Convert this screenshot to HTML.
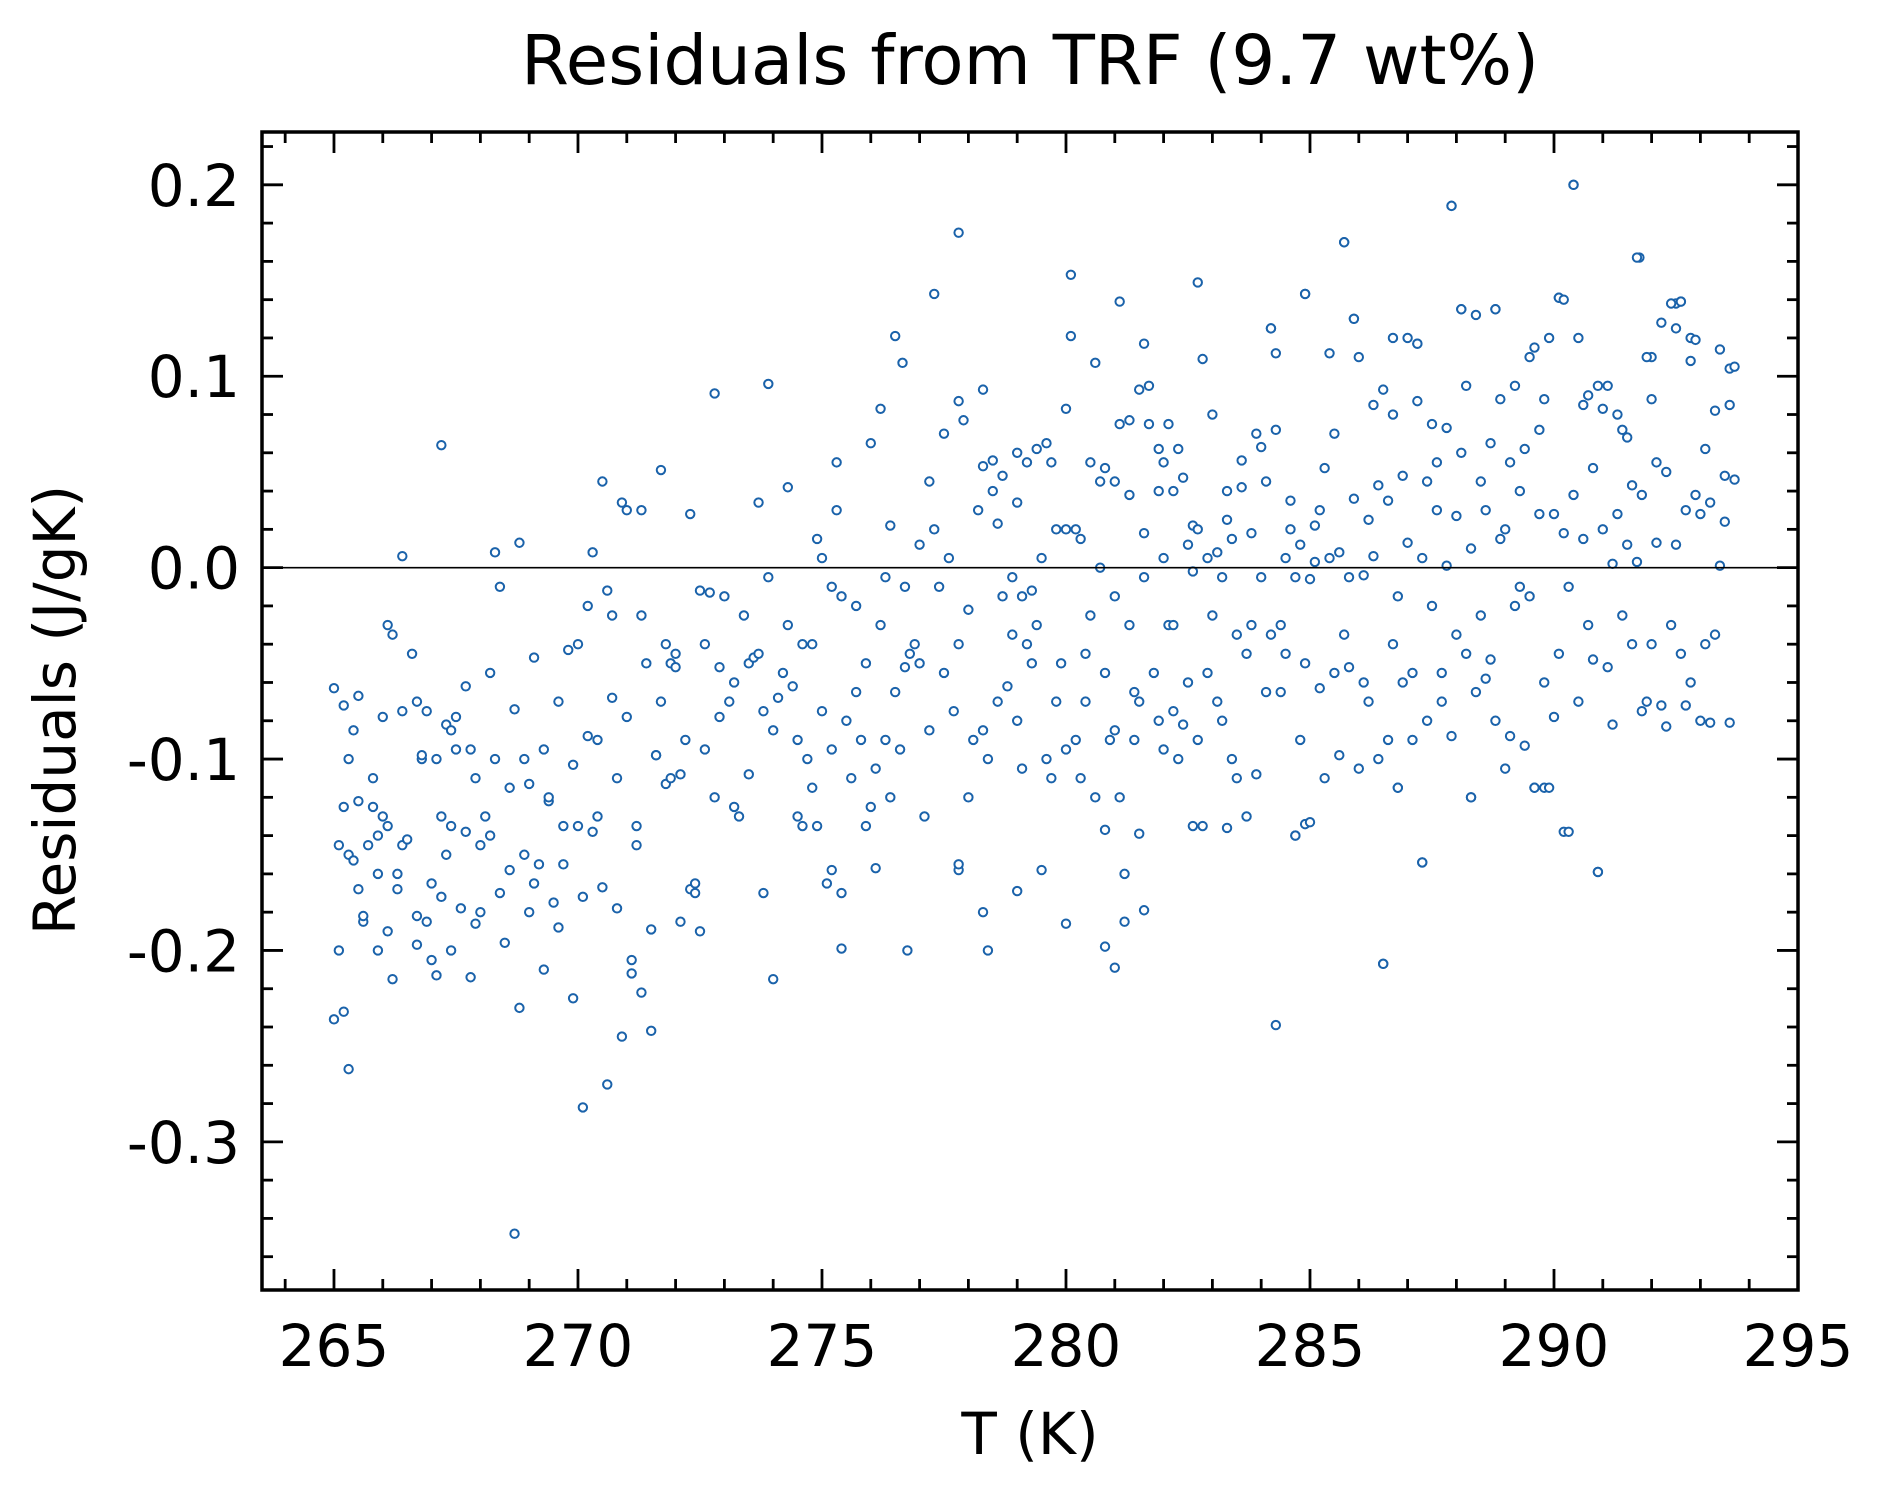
<!DOCTYPE html>
<html><head><meta charset="utf-8"><style>
html,body{margin:0;padding:0;background:#fff;}
svg{display:block;font-family:"DejaVu Sans","Liberation Sans",sans-serif;}
</style></head><body>
<svg id="chart" width="1880" height="1494" viewBox="0 0 1880 1494">
<rect x="0" y="0" width="1880" height="1494" fill="#fff"/>
<text x="1030" y="84" font-size="69" text-anchor="middle">Residuals from TRF (9.7 wt%)</text>
<text x="1030" y="1454" font-size="58" text-anchor="middle">T (K)</text>
<text transform="translate(75,710) rotate(-90)" font-size="58" text-anchor="middle">Residuals (J/gK)</text>
<g id="ticks"></g>
<g id="points"></g>
<line id="zero" stroke="#000" stroke-width="1.6"/>
<rect id="frame" fill="none" stroke="#000" stroke-width="3.5"/>
</svg>
<script>
const temps=[265.0,265.1,265.1,265.0,265.2,265.2,265.3,265.3,265.2,265.3,265.4,265.4,265.5,265.5,265.5,265.6,265.6,265.7,265.8,265.8,265.9,265.9,265.9,266.0,266.0,266.1,266.1,266.1,266.2,266.2,266.3,266.3,266.4,266.4,266.4,266.5,266.6,266.7,266.7,266.7,266.8,266.8,266.9,266.9,267.0,267.0,267.1,267.1,267.2,267.2,267.2,267.3,267.3,267.4,267.4,267.4,267.5,267.5,267.6,267.7,267.7,267.8,267.8,267.9,267.9,268.0,268.0,268.1,268.2,268.2,268.3,268.3,268.4,268.4,268.5,268.6,268.6,268.7,268.7,268.8,268.8,268.9,268.9,269.0,269.0,269.1,269.1,269.2,269.3,269.3,269.4,269.4,269.5,269.6,269.6,269.7,269.7,269.8,269.9,269.9,270.0,270.0,270.1,270.1,270.2,270.2,270.3,270.3,270.4,270.4,270.5,270.5,270.6,270.6,270.7,270.7,270.8,270.8,270.9,270.9,271.0,271.0,271.1,271.1,271.2,271.2,271.3,271.3,271.3,271.4,271.5,271.5,271.6,271.6,271.7,271.7,271.8,271.8,271.9,271.9,272.0,272.0,272.1,272.1,272.2,272.3,272.3,272.4,272.4,272.5,272.5,272.6,272.6,272.7,272.8,272.8,272.9,272.9,273.0,273.1,273.2,273.2,273.3,273.4,273.5,273.5,273.6,273.7,273.7,273.8,273.8,273.9,273.9,274.0,274.0,274.1,274.2,274.3,274.3,274.4,274.5,274.5,274.6,274.6,274.7,274.8,274.8,274.9,274.9,275.0,275.0,275.1,275.2,275.2,275.3,275.3,275.4,275.4,275.5,275.6,275.7,275.7,275.8,275.9,275.9,276.0,276.0,276.1,276.2,276.2,276.3,276.3,276.4,276.4,276.5,276.6,276.7,276.7,276.8,276.9,277.0,277.0,277.1,277.2,277.2,277.3,277.4,277.5,277.5,277.6,277.7,277.8,277.8,277.9,278.0,278.0,278.1,278.2,278.3,278.3,278.4,278.4,278.5,278.6,278.7,278.8,278.9,279.0,279.0,279.1,279.2,279.3,279.4,279.5,279.5,279.6,279.6,279.7,279.8,279.9,280.0,280.0,280.1,280.2,280.3,280.3,280.4,280.5,280.6,280.6,280.7,280.8,280.8,280.9,281.0,281.0,281.1,281.2,281.3,281.3,281.4,281.5,281.5,281.6,281.7,281.8,281.9,282.0,282.0,282.1,282.2,282.2,
277.3,277.8,276.5,276.65,277.8,278.3,280.1,281.1,281.6,282.7,285.7,287.9,290.4,284.9,284.2,285.9,288.1,288.8,290.1,291.75,292.5,292.6,286.7,287.2,292.0,292.8,293.6,
284.3,286.5,281.0,280.0,281.6,278.3,276.75,275.4,275.2,276.1,277.8,279.0,287.3,290.9,290.2,284.7,284.9,288.3,289.8,289.6,286.8,281.2,280.8,282.6,283.3,281.5,
278.5,278.7,279.0,279.2,279.4,279.7,280.0,280.2,280.5,280.8,281.1,281.3,281.7,281.9,282.0,278.9,279.3,279.8,280.4,281.0,281.4,281.9,278.6,279.1,280.7,281.6,
282.1,282.2,282.3,282.3,282.4,282.4,282.5,282.5,282.6,282.6,282.7,282.7,282.8,282.8,282.9,282.9,283.0,283.0,283.1,283.1,283.2,283.2,283.3,283.3,283.4,283.4,283.5,283.5,283.6,283.6,283.7,283.7,283.8,283.8,283.9,283.9,284.0,284.0,284.1,284.1,284.2,284.2,284.3,284.3,284.4,284.4,284.5,284.5,284.6,284.6,284.7,284.7,284.8,284.8,284.9,284.9,285.0,285.0,285.1,285.1,285.2,285.2,285.3,285.3,285.4,285.4,285.5,285.5,285.6,285.6,285.7,285.7,285.8,285.8,285.9,285.9,286.0,286.0,286.1,286.1,286.2,286.2,286.3,286.3,286.4,286.4,286.5,286.5,286.6,286.6,286.7,286.7,286.8,286.8,286.9,286.9,287.0,287.0,287.1,287.1,287.2,287.2,287.3,287.3,287.4,287.4,287.5,287.5,287.6,287.6,287.7,287.7,287.8,287.8,287.9,287.9,288.0,288.0,288.1,288.1,288.2,288.2,288.3,288.3,288.4,288.4,288.5,288.5,288.6,288.6,288.7,288.7,288.8,288.8,288.9,288.9,289.0,289.0,289.1,289.1,289.2,289.2,289.3,289.3,289.4,289.4,289.5,289.5,289.6,289.6,289.7,289.7,289.8,289.8,289.9,289.9,290.0,290.0,290.1,290.1,290.2,290.2,290.3,290.3,290.4,290.4,290.5,290.5,290.6,290.6,290.7,290.7,290.8,290.8,290.9,290.9,291.0,291.0,291.1,291.1,291.2,291.2,291.3,291.3,291.4,291.4,291.5,291.5,291.6,291.6,291.7,291.7,291.8,291.8,291.9,291.9,292.0,292.0,292.1,292.1,292.2,292.2,292.3,292.3,292.4,292.4,292.5,292.5,292.6,292.6,292.7,292.7,292.8,292.8,292.9,292.9,293.0,293.0,293.1,293.1,293.2,293.2,293.3,293.3,293.4,293.4,293.5,293.5,293.6,293.6,293.7,293.7];
const residuals=[-0.063,-0.145,-0.2,-0.236,-0.072,-0.125,-0.1,-0.15,-0.232,-0.262,-0.153,-0.085,-0.067,-0.122,-0.168,-0.185,-0.182,-0.145,-0.11,-0.125,-0.14,-0.2,-0.16,-0.078,-0.13,-0.19,-0.135,-0.03,-0.215,-0.035,-0.168,-0.16,-0.145,-0.075,0.006,-0.142,-0.045,-0.07,-0.182,-0.197,-0.1,-0.098,-0.075,-0.185,-0.165,-0.205,-0.1,-0.213,-0.13,0.064,-0.172,-0.082,-0.15,-0.2,-0.135,-0.085,-0.095,-0.078,-0.178,-0.062,-0.138,-0.214,-0.095,-0.11,-0.186,-0.18,-0.145,-0.13,-0.055,-0.14,0.008,-0.1,-0.01,-0.17,-0.196,-0.158,-0.115,-0.074,-0.348,-0.23,0.013,-0.1,-0.15,-0.18,-0.113,-0.165,-0.047,-0.155,-0.095,-0.21,-0.122,-0.12,-0.175,-0.188,-0.07,-0.155,-0.135,-0.043,-0.103,-0.225,-0.04,-0.135,-0.172,-0.282,-0.088,-0.02,0.008,-0.138,-0.09,-0.13,-0.167,0.045,-0.012,-0.27,-0.068,-0.025,-0.11,-0.178,0.034,-0.245,-0.078,0.03,-0.212,-0.205,-0.135,-0.145,0.03,-0.025,-0.222,-0.05,-0.242,-0.189,-0.098,-0.098,0.051,-0.07,-0.113,-0.04,-0.05,-0.11,-0.045,-0.052,-0.185,-0.108,-0.09,0.028,-0.168,-0.17,-0.165,-0.19,-0.012,-0.04,-0.095,-0.013,-0.12,0.091,-0.052,-0.078,-0.015,-0.07,-0.125,-0.06,-0.13,-0.025,-0.108,-0.05,-0.047,0.034,-0.045,-0.17,-0.075,0.096,-0.005,-0.215,-0.085,-0.068,-0.055,0.042,-0.03,-0.062,-0.13,-0.09,-0.135,-0.04,-0.1,-0.115,-0.04,0.015,-0.135,0.005,-0.075,-0.165,-0.095,-0.01,0.055,0.03,-0.17,-0.015,-0.08,-0.11,-0.065,-0.02,-0.09,-0.05,-0.135,0.065,-0.125,-0.105,0.083,-0.03,-0.09,-0.005,-0.12,0.022,-0.065,-0.095,-0.01,-0.052,-0.045,-0.04,0.012,-0.05,-0.13,-0.085,0.045,0.02,-0.01,-0.055,0.07,0.005,-0.075,-0.158,-0.04,0.077,-0.12,-0.022,-0.09,0.03,-0.085,0.053,-0.2,-0.1,0.056,0.023,-0.015,-0.062,-0.005,-0.08,0.034,-0.105,-0.04,-0.012,-0.03,-0.158,0.005,-0.1,0.065,-0.11,0.02,-0.05,0.02,-0.095,0.121,-0.09,0.015,-0.11,-0.045,-0.025,0.107,-0.12,0.045,-0.055,-0.198,-0.09,0.045,-0.015,-0.12,-0.185,0.038,-0.03,-0.065,0.093,-0.07,-0.005,0.095,-0.055,0.04,-0.095,0.005,-0.03,0.04,-0.075,
0.143,0.175,0.121,0.107,0.087,0.093,0.153,0.139,0.117,0.149,0.17,0.189,0.2,0.143,0.125,0.13,0.135,0.135,0.141,0.162,0.138,0.139,0.12,0.117,0.11,0.12,0.104,
-0.239,-0.207,-0.209,-0.186,-0.179,-0.18,-0.2,-0.199,-0.158,-0.157,-0.155,-0.169,-0.154,-0.159,-0.138,-0.14,-0.134,-0.12,-0.115,-0.115,-0.115,-0.16,-0.137,-0.135,-0.136,-0.139,
0.04,0.048,0.06,0.055,0.062,0.055,0.083,0.02,0.055,0.052,0.075,0.077,0.075,0.062,0.055,-0.035,-0.05,-0.07,-0.07,-0.085,-0.09,-0.08,-0.07,-0.015,0.0,0.018,
0.075,-0.03,-0.1,0.062,0.047,-0.082,0.012,-0.06,0.022,-0.002,-0.09,0.02,-0.135,0.109,-0.055,0.005,-0.025,0.08,-0.07,0.008,-0.005,-0.08,0.04,0.025,-0.1,0.015,-0.11,-0.035,0.056,0.042,-0.045,-0.13,0.018,-0.03,0.07,-0.108,0.063,-0.005,0.045,-0.065,-0.035,0.125,0.112,0.072,-0.03,-0.065,0.005,-0.045,0.02,0.035,-0.14,-0.005,-0.09,0.012,-0.05,0.143,-0.133,-0.006,0.022,0.003,-0.063,0.03,-0.11,0.052,0.005,0.112,-0.055,0.07,-0.098,0.008,-0.035,0.17,-0.052,-0.005,0.036,0.13,-0.105,0.11,-0.004,-0.06,0.025,-0.07,0.085,0.006,-0.1,0.043,0.093,-0.207,-0.09,0.035,-0.04,0.08,-0.115,-0.015,0.048,-0.06,0.013,0.12,-0.055,-0.09,0.087,0.117,-0.154,0.005,-0.08,0.045,0.075,-0.02,0.055,0.03,-0.07,-0.055,0.073,0.001,-0.088,0.189,0.027,-0.035,0.135,0.06,-0.045,0.095,-0.12,0.01,-0.065,0.132,0.045,-0.025,-0.058,0.03,0.065,-0.048,0.135,-0.08,0.088,0.015,-0.105,0.02,0.055,-0.088,0.095,-0.02,0.04,-0.01,0.062,-0.093,0.11,-0.015,0.115,-0.115,0.028,0.072,-0.06,0.088,0.12,-0.115,0.028,-0.078,0.141,-0.045,0.018,0.14,-0.138,-0.01,0.2,0.038,0.12,-0.07,0.085,0.015,0.09,-0.03,0.052,-0.048,0.095,-0.159,0.02,0.083,-0.052,0.095,-0.082,0.002,0.028,0.08,-0.025,0.072,0.068,0.012,0.043,-0.04,0.162,0.003,0.038,-0.075,0.11,-0.07,0.088,-0.04,0.055,0.013,-0.072,0.128,0.05,-0.083,-0.03,0.138,0.125,0.012,-0.045,0.139,-0.072,0.03,0.108,-0.06,0.038,0.119,-0.08,0.028,0.062,-0.04,0.034,-0.081,0.082,-0.035,0.114,0.001,0.048,0.024,0.085,-0.081,0.105,0.046];
const xTicks=[265,270,275,280,285,290,295];
const yTicks=[0.2,0.1,0.0,-0.1,-0.2,-0.3];
const yTickLabels=["0.2","0.1","0.0","-0.1","-0.2","-0.3"];

const L=262,R=1798,T=132,B=1290;
const xMin=263.525,xMax=295.0,yMin=-0.3774,yMax=0.2276;
function sx(v){return L+(v-xMin)/(xMax-xMin)*(R-L);}
function sy(v){return B-(v-yMin)/(yMax-yMin)*(B-T);}
const NS="http://www.w3.org/2000/svg";
function mk(tag,attrs,parent){const e=document.createElementNS(NS,tag);for(const k in attrs)e.setAttribute(k,attrs[k]);parent.appendChild(e);return e;}

const frame=document.getElementById('frame');
frame.setAttribute('x',L);frame.setAttribute('y',T);frame.setAttribute('width',R-L);frame.setAttribute('height',B-T);
const z=document.getElementById('zero');
z.setAttribute('x1',L);z.setAttribute('x2',R);z.setAttribute('y1',sy(0));z.setAttribute('y2',sy(0));

const tg=document.getElementById('ticks');
for(let v=264;v<=295;v++){
  const major=(v%5===0);const len=major?21:11;const x=sx(v);
  const a=mk('line',{x1:x,x2:x,y1:B,y2:B-len,stroke:'#000','stroke-width':2.8},tg);
  
  
  const b=mk('line',{x1:x,x2:x,y1:T,y2:T+len,stroke:'#000','stroke-width':2.8},tg);
  
  
}
xTicks.forEach(v=>{
  const t=mk('text',{x:sx(v),y:1366,'font-size':58,'text-anchor':'middle'},tg);
  t.textContent=String(v);
  
  
});
for(let i=-18;i<=11;i++){
  const v=i*0.02;const major=(i%5===0);const len=major?21:11;const y=sy(v);
  if(y<T||y>B)continue;
  const a=mk('line',{x1:L,x2:L+len,y1:y,y2:y,stroke:'#000','stroke-width':2.8},tg);
  
  
  const b=mk('line',{x1:R,x2:R-len,y1:y,y2:y,stroke:'#000','stroke-width':2.8},tg);
  
  
}
yTicks.forEach((v,i)=>{
  const t=mk('text',{x:240,y:sy(v)+21,'font-size':58,'text-anchor':'end'},tg);
  t.textContent=yTickLabels[i];
  
  
});
const pg=document.getElementById('points');
const n=Math.min(temps.length,residuals.length);
for(let i=0;i<n;i++){
  const c=mk('circle',{cx:sx(temps[i]),cy:sy(residuals[i]),r:4.2,fill:'#fff',stroke:'#1a62aa','stroke-width':2},pg);
  
  
}
</script>
</body></html>
